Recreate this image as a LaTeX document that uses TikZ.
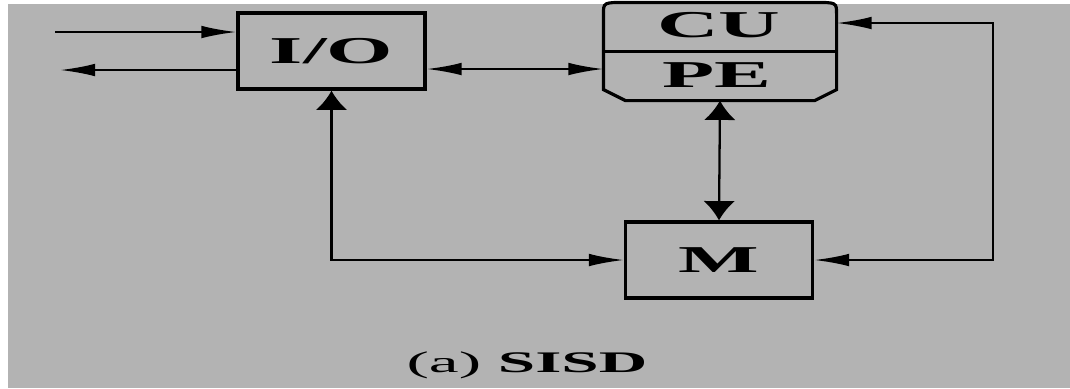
\documentclass[tikz,border=0pt]{standalone}
\usepackage{fontspec}
\newfontfamily\widefont{Liberation Serif}[FakeStretch=2.25]
\usepackage{tikz}
\usetikzlibrary{arrows.meta,calc}
\definecolor{panel}{HTML}{B3B3B3}

\begin{document}
\begin{tikzpicture}[
    x=0.1mm, y=-0.1mm,
    unit/.style={draw, line width=0.9pt, inner sep=0pt,
                 minimum width=18.7mm, minimum height=7.6mm,
                 font=\widefont\bfseries\fontsize{10.8}{13}\selectfont},
    lbl/.style={inner sep=0pt,
                font=\widefont\bfseries\fontsize{10.8}{13}\selectfont},
    capt/.style={inner sep=0pt, anchor=base,
                 font=\widefont\fontsize{8.5}{10}\selectfont},
    htip/.tip={Latex[length=10pt, width=3.6pt]},
    vtip/.tip={Latex[length=5.5pt, width=9pt]},
    wire/.style={line width=0.65pt},
]
    \fill[white] (0,0) rectangle (1070,388);
    \fill[panel] (8,4) rectangle (1070,388);
    \useasboundingbox (0,0) rectangle (1070,388);

    \node[unit] (io)  at (331.5,51) {I/O};
    \node[unit, draw=none, minimum width=23mm, minimum height=9.5mm] (cupe) at (720,51.5) {};
    \node[lbl] (cu) at (719,25) {CU};
    \node[lbl] (pe) at (717,75) {PE};
    \node[unit] (mem) at (719,260) {M};

    \draw[line width=0.9pt]
        ($(cupe.south west)+(0,-11)$) -- ($(cupe.north west)+(0,12)$)
        .. controls (cupe.north west) .. ($(cupe.north west)+(22,0)$)
        -- ($(cupe.north east)+(-22,0)$)
        .. controls (cupe.north east) .. ($(cupe.north east)+(0,12)$)
        -- ($(cupe.south east)+(0,-11)$) -- ($(cupe.south east)+(-22,0)$)
        -- ($(cupe.south west)+(22,0)$) -- cycle;
    \draw[line width=0.6pt] (cupe.west) -- (cupe.east);

    \coordinate (inL)  at (55,32);
    \coordinate (outL) at (60,70);
    \coordinate (bus)  at (500,69);
    \coordinate (ret)  at (993,23);

    \draw[wire, -htip] (inL) -- (io.west |- inL);
    \draw[wire, -htip] (io.west |- outL) -- (outL);
    \draw[wire, htip-htip] (io.east |- bus) -- (cupe.west |- bus);
    \draw[wire, vtip-htip] (io.south) |- (mem.west);
    \draw[wire, vtip-vtip] (cupe.south) -- (mem.north);
    \draw[wire, htip-htip] (cupe.east |- ret) -- (ret) |- (mem.east);

    \node[capt] (caption) at (527,372) {(a) \textbf{SISD}};
\end{tikzpicture}
\end{document}
